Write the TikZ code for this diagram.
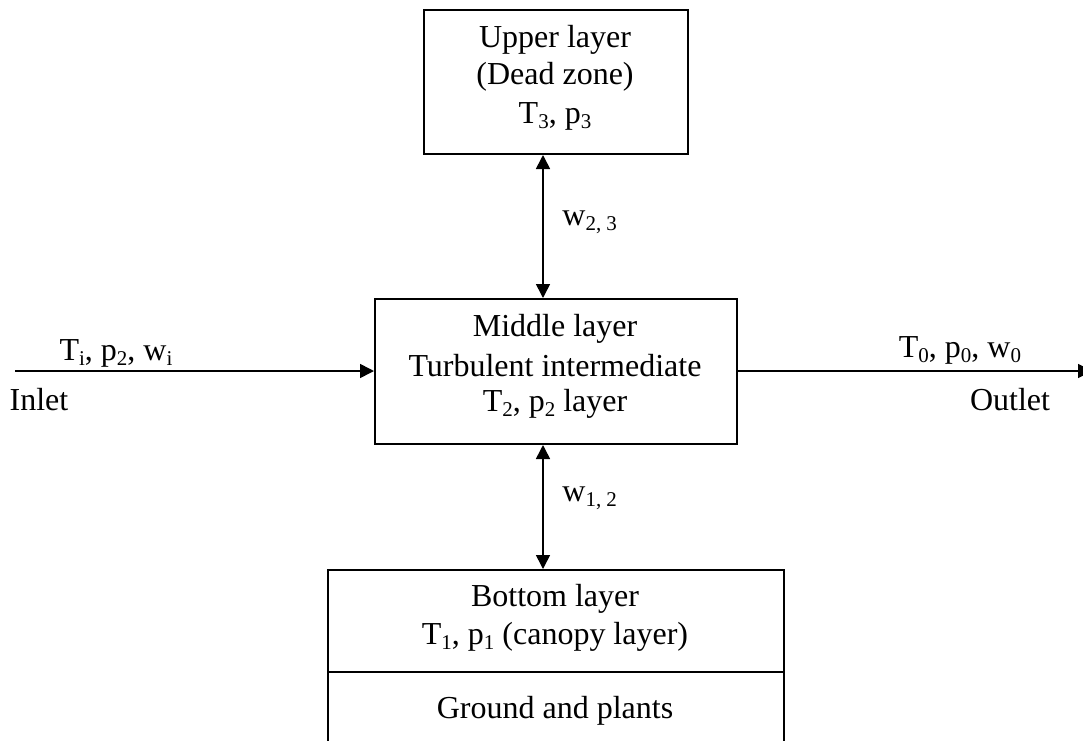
\documentclass[tikz,border=0pt]{standalone}
\usepackage{fontspec}
\setmainfont{Liberation Serif}
\usetikzlibrary{arrows.meta}
\newcommand{\lsub}[1]{\raisebox{-0.35ex}{\fontsize{10.5}{12}\selectfont #1}}
\begin{document}
\begin{tikzpicture}[x=0.5pt,y=-0.5pt,
  box/.style={draw,line width=1pt,inner sep=0pt,anchor=north west},
  txt/.style={font=\fontsize{16}{19}\selectfont,inner sep=0pt,align=center},
  flow/.style={line width=0.8pt,-{Triangle[length=7pt,width=7pt]}},
  both/.style={line width=0.8pt,{Triangle[length=7pt,width=7pt]}-{Triangle[length=7pt,width=7pt]}}]
\useasboundingbox (0,0) rectangle (1083,740);
\clip (0,0) rectangle (1083,740);
% boxes
\node[box,minimum width=132pt,minimum height=72pt] (up) at (423,9) {};
\node[box,minimum width=181pt,minimum height=72.5pt] (mid) at (374,298) {};
\node[box,minimum width=228pt,minimum height=51pt] (bot) at (327,569) {};
\node[box,minimum width=228pt,minimum height=45pt] (gnd) at (327,671) {};
% box texts
\node[txt] (upT1) at (555,40) {Upper layer};
\node[txt] (upT2) at (555,77) {(Dead zone)};
\node[txt] (upT3) at (555,116) {T\lsub{3}, p\lsub{3}};
\node[txt] (midT1) at (555,329) {Middle layer};
\node[txt] (midT2) at (555,366) {Turbulent intermediate};
\node[txt] (midT3) at (555,404) {T\lsub{2}, p\lsub{2} layer};
\node[txt] (botT1) at (555,599) {Bottom layer};
\node[txt] (botT2) at (555,637) {T\lsub{1}, p\lsub{1} (canopy layer)};
\node[txt] (gndT) at (555,711) {Ground and plants};
% connectors
\coordinate (inS) at (15,371);
\coordinate (outE) at (1092,371);
\draw[flow] (inS) -- (mid.west |- inS);
\draw[flow] (mid.east |- outE) -- (outE);
\coordinate (a1) at (543,153);
\coordinate (a2) at (543,298);
\draw[both] (up.south -| a1) -- (mid.north -| a1);
\draw[both] (mid.south -| a1) -- (bot.north -| a1);
% labels
\node[txt] (inlab) at (116,353) {T\lsub{i}, p\lsub{2}, w\lsub{i}};
\node[txt] (inlet) at (39,400) {Inlet};
\node[txt] (outlab) at (960,350) {T\lsub{0}, p\lsub{0}, w\lsub{0}};
\node[txt] (outlet) at (1010,400) {Outlet};
\node[txt,anchor=west] (w23) at (562,222) {w\lsub{2, 3}};
\node[txt,anchor=west] (w12) at (562,498) {w\lsub{1, 2}};
\end{tikzpicture}
\end{document}
